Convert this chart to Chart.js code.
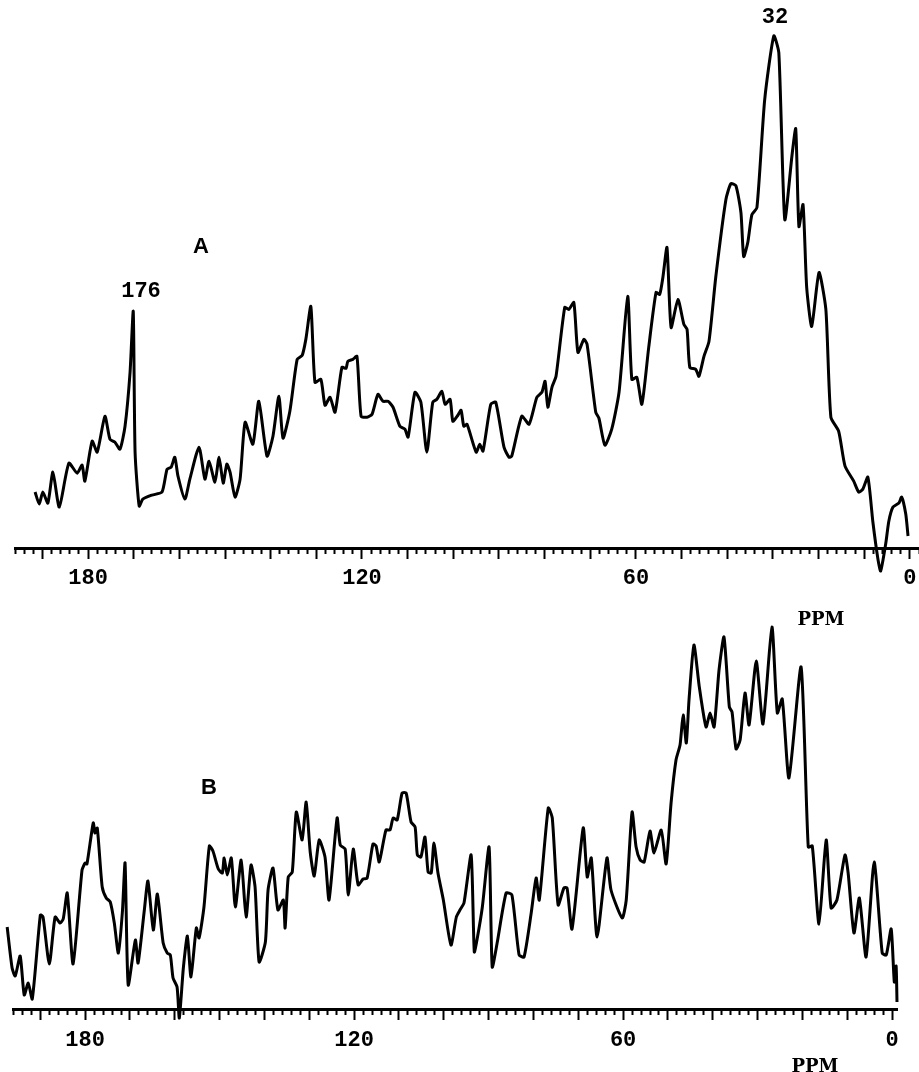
<!DOCTYPE html>
<html>
<head>
<meta charset="utf-8">
<script src="https://cdn.jsdelivr.net/npm/chart.js@4.4.1/dist/chart.umd.min.js"></script>
<style>
  body { margin: 0; background: #fff; }
  #page { position: relative; width: 919px; height: 1072px; overflow: hidden; background: #fff; }
  canvas { position: absolute; left: 0; }
  #chartA { top: 0; }
  #chartB { top: 600px; }
  .note { position: absolute; transform: translate(-50%, -50%); color: #000; white-space: nowrap; line-height: 1; }
  .peak { font: bold 22px "Liberation Mono", monospace; }
  .panel { font: bold 22px "Liberation Sans", sans-serif; }
  .unit { font: bold 18px "DejaVu Serif", serif; }
</style>
</head>
<body>
<div id="page">
  <canvas id="chartA" width="919" height="600"></canvas>
  <canvas id="chartB" width="919" height="472"></canvas>
  <div class="note panel" style="left:201px; top:246px;">A</div>
  <div class="note peak" style="left:141px; top:291px;">176</div>
  <div class="note peak" style="left:775px; top:17px;">32</div>
  <div class="note unit" style="left:821px; top:618px;">PPM</div>
  <div class="note panel" style="left:209px; top:787px;">B</div>
  <div class="note unit" style="left:815px; top:1065px;">PPM</div>
</div>
<script>
// chemical shift axis labels (ppm)
const tickLabels = [180, 120, 60, 0];

// spectrum A: chemical shift (ppm) and intensity (arbitrary units)
const ppmA = [
  191.6, 190.7, 189.9, 188.8, 187.7, 186.3, 184.2, 182.4, 181.3, 180.7,
  179.1, 178.0, 176.3, 175.2, 174.1, 173.0, 171.9, 170.8, 170.1, 169.7,
  168.8, 168.0, 166.0, 163.8, 162.7, 161.8, 161.0, 160.3, 158.8, 157.7,
  155.7, 154.4, 153.5, 152.2, 151.3, 150.4, 149.6, 148.9, 147.8, 146.7,
  145.6, 143.9, 142.6, 140.8, 139.5, 138.2, 137.3, 135.8, 134.2, 133.1,
  132.3, 131.2, 130.3, 129.0, 128.1, 127.0, 125.9, 124.4, 123.5, 123.1,
  122.0, 121.1, 120.2, 118.9, 117.8, 116.5, 115.4, 114.3, 113.2, 111.7,
  110.6, 109.9, 108.4, 107.1, 105.8, 104.5, 103.6, 102.5, 101.8, 100.7,
  100.1, 99.0, 98.3, 97.7, 97.0, 95.0, 94.2, 93.5, 91.8, 90.7,
  88.9, 87.8, 87.2, 85.0, 83.4, 81.7, 80.6, 79.9, 79.3, 78.4,
  77.5, 75.6, 74.7, 73.6, 72.7, 71.4, 70.7, 68.8, 68.1, 66.8,
  65.3, 63.7, 61.8, 60.9, 59.8, 58.7, 57.2, 55.6, 54.8, 54.1,
  53.2, 52.3, 50.8, 49.5, 48.8, 48.2, 46.9, 46.2, 45.1, 44.0,
  42.5, 40.3, 39.2, 38.1, 37.0, 36.4, 35.5, 34.6, 33.5, 31.8,
  29.8, 28.7, 27.4, 25.8, 25.0, 24.3, 23.4, 22.6, 21.5, 19.9,
  18.4, 17.3, 15.6, 14.2, 12.3, 11.2, 10.3, 9.2, 8.1, 7.0,
  6.4, 5.3, 4.6, 3.7, 2.4, 1.8, 0.9, 0.4
];
const intensityA = [
  11.2, 8.8, 11.2, 9.0, 15.2, 8.2, 17.0, 15.0, 16.6, 13.4,
  21.4, 19.2, 26.4, 21.8, 21.2, 19.8, 24.4, 35.2, 47.4, 19.2,
  8.4, 9.8, 10.6, 11.2, 15.8, 16.2, 18.2, 14.4, 9.8, 13.8,
  20.2, 13.8, 17.4, 13.2, 18.2, 13.0, 16.8, 15.2, 10.2, 13.8,
  25.2, 20.8, 29.4, 18.4, 22.4, 30.4, 22.0, 27.4, 37.8, 38.6,
  41.8, 48.4, 33.2, 33.8, 28.6, 30.2, 27.2, 36.2, 36.0, 37.4,
  37.8, 38.4, 26.4, 26.2, 26.8, 30.8, 29.4, 29.4, 28.2, 24.4,
  23.8, 22.2, 31.2, 29.2, 19.2, 29.2, 29.8, 31.4, 28.8, 29.8,
  25.4, 26.6, 27.6, 24.4, 24.8, 19.2, 20.8, 19.4, 28.8, 29.2,
  20.2, 18.2, 18.4, 26.4, 24.8, 30.2, 31.2, 33.4, 28.2, 32.2,
  34.4, 48.2, 47.8, 49.2, 39.2, 41.8, 40.8, 27.2, 26.0, 20.6,
  23.8, 31.2, 50.4, 33.8, 34.2, 28.8, 40.2, 51.2, 50.8, 54.2,
  60.2, 44.2, 49.8, 44.8, 43.8, 36.2, 35.8, 34.4, 38.4, 41.4,
  54.4, 69.8, 73.0, 72.6, 67.2, 58.4, 61.2, 66.8, 68.2, 89.8,
  102.6, 99.2, 65.8, 78.8, 84.0, 64.4, 68.8, 52.2, 44.4, 55.2,
  47.8, 26.2, 23.4, 16.4, 13.4, 11.2, 11.8, 14.2, 5.2, -2.2,
  -4.6, 0.8, 5.4, 8.2, 9.0, 10.2, 6.8, 2.4
];

// spectrum B
const ppmB = [
  197.4, 196.3, 195.6, 194.5, 193.6, 192.7, 191.8, 190.0, 189.4, 188.0,
  186.7, 185.6, 184.9, 184.0, 182.7, 180.7, 180.0, 179.6, 178.2, 177.8,
  177.3, 176.2, 175.3, 174.4, 173.5, 172.6, 171.7, 171.1, 170.4, 168.8,
  168.2, 166.8, 166.0, 164.8, 163.9, 162.6, 161.7, 161.0, 160.4, 159.5,
  159.0, 158.1, 157.2, 156.4, 155.2, 154.6, 153.5, 152.3, 151.5, 150.3,
  149.4, 149.0, 148.3, 147.4, 146.5, 145.2, 144.1, 143.0, 142.1, 141.2,
  139.8, 139.2, 138.1, 137.0, 135.8, 135.4, 134.7, 133.8, 132.9, 131.6,
  130.7, 129.8, 128.9, 127.8, 126.5, 125.6, 123.8, 123.1, 122.0, 121.3,
  120.2, 119.1, 118.0, 117.1, 115.8, 115.1, 114.4, 112.9, 112.0, 111.3,
  110.4, 109.3, 108.4, 107.3, 106.4, 105.9, 105.1, 104.2, 103.5, 102.8,
  102.2, 101.3, 100.1, 98.4, 97.2, 96.4, 95.5, 93.9, 93.2, 92.6,
  91.4, 89.9, 89.2, 88.1, 86.1, 84.8, 83.2, 82.1, 80.5, 79.4,
  78.7, 76.7, 75.8, 74.5, 73.2, 72.5, 71.4, 68.9, 68.0, 67.1,
  65.8, 63.6, 62.7, 60.2, 59.3, 58.0, 57.1, 56.2, 55.3, 54.0,
  53.1, 51.5, 50.4, 49.3, 48.2, 47.3, 46.6, 45.9, 45.3, 44.2,
  43.0, 41.5, 40.6, 39.7, 38.6, 37.5, 36.3, 35.7, 34.8, 33.9,
  32.8, 31.9, 30.3, 28.8, 26.8, 25.6, 24.5, 23.0, 20.3, 18.7,
  17.8, 16.3, 14.7, 13.6, 12.3, 10.5, 9.8, 8.5, 7.3, 5.8,
  4.0, 2.2, 1.3, 0.2, -0.5, -0.9, -1.1
];
const intensityB = [
  16.4, 8.2, 6.6, 10.6, 2.8, 5.2, 2.0, 18.8, 18.4, 9.0,
  18.4, 17.2, 18.0, 23.2, 9.0, 27.8, 29.2, 29.0, 37.2, 35.2,
  36.2, 24.4, 22.2, 21.4, 17.2, 11.2, 19.4, 29.2, 4.8, 13.8,
  9.2, 19.8, 25.6, 15.8, 23.0, 13.2, 11.2, 10.8, 6.2, 4.4,
  -1.8, 8.2, 14.6, 6.4, 16.2, 14.2, 20.4, 32.6, 31.6, 28.0,
  27.2, 30.2, 26.8, 30.2, 20.4, 29.8, 18.4, 28.8, 24.4, 9.4,
  13.4, 23.8, 28.2, 19.8, 21.8, 16.2, 26.4, 27.4, 39.4, 33.8,
  41.4, 31.4, 26.6, 33.8, 30.4, 21.8, 38.2, 32.8, 32.0, 22.8,
  32.0, 24.8, 26.0, 26.2, 33.0, 32.6, 29.4, 35.8, 35.8, 38.2,
  37.8, 43.2, 43.2, 37.4, 36.4, 30.8, 30.4, 34.4, 27.4, 27.2,
  33.2, 27.2, 21.8, 12.8, 18.4, 19.8, 21.2, 30.8, 11.4, 13.8,
  20.4, 32.4, 8.4, 13.2, 23.2, 22.8, 10.8, 10.4, 19.2, 26.2,
  21.8, 40.2, 38.2, 20.8, 24.2, 24.2, 16.0, 36.2, 26.4, 30.2,
  14.4, 30.2, 23.8, 18.2, 21.8, 39.4, 32.4, 29.8, 29.4, 35.6,
  31.2, 35.8, 29.0, 41.2, 49.8, 52.8, 58.8, 53.2, 61.8, 72.8,
  64.4, 56.4, 59.2, 56.4, 67.8, 74.4, 60.4, 59.4, 52.0, 53.8,
  63.2, 56.8, 69.6, 57.0, 76.4, 59.2, 62.0, 46.2, 68.4, 32.4,
  32.6, 17.0, 33.8, 20.2, 21.8, 30.8, 27.2, 15.2, 22.2, 10.4,
  29.4, 11.2, 10.8, 16.0, 5.4, 8.6, 1.4
];

function toPoints(xs, ys) {
  return xs.map((x, i) => ({ x: x, y: ys[i] }));
}

function isMajor(value) {
  return Math.round(value) % 10 === 0;
}

// ticks.padding is kept at 0 (it would also pad the chart area sideways);
// the gap to the labels comes from a long tick length with dashed tick marks
function makeSpectrum(canvasId, ppm, intensity, opts) {
  const ctx = document.getElementById(canvasId).getContext('2d');
  return new Chart(ctx, {
    type: 'line',
    data: {
      datasets: [{
        data: toPoints(ppm, intensity),
        borderColor: '#000',
        borderWidth: 3,
        pointRadius: 0,
        tension: 0.2,
        clip: false,
        fill: false
      }]
    },
    options: {
      responsive: false,
      animation: false,
      events: [],
      layout: { padding: opts.padding },
      plugins: { legend: { display: false }, tooltip: { enabled: false } },
      scales: {
        x: {
          type: 'linear',
          reverse: true,
          min: opts.xMin,
          max: opts.xMax,
          border: { display: true, color: '#000', width: 3 },
          grid: {
            drawOnChartArea: false,
            drawTicks: true,
            tickLength: opts.tickLength,
            tickWidth: 2,
            tickColor: '#000',
            tickBorderDash: (c) => isMajor(c.tick.value) ? [9, 60] : [4, 60]
          },
          ticks: {
            stepSize: 2,
            autoSkip: false,
            includeBounds: false,
            maxRotation: 0,
            padding: 0,
            color: '#000',
            font: { family: 'Liberation Mono', size: 22, weight: 'bold' },
            callback: (v) => tickLabels.includes(Math.round(v)) && Math.abs(v - Math.round(v)) < 1e-6 ? String(Math.round(v)) : ''
          }
        },
        y: {
          display: false,
          min: 0,
          max: opts.yMax
        }
      }
    }
  });
}

makeSpectrum('chartA', ppmA, intensityA, {
  xMin: -2, xMax: 196, yMax: 109.8, tickLength: 17,
  padding: { left: 15, right: 0, top: 0, bottom: 8.6 }
});

makeSpectrum('chartB', ppmB, intensityB, {
  xMin: -1.1, xMax: 196.1, yMax: 81.8, tickLength: 18,
  padding: { left: 13, right: 22, top: 0, bottom: 18.6 }
});
</script>
</body>
</html>
